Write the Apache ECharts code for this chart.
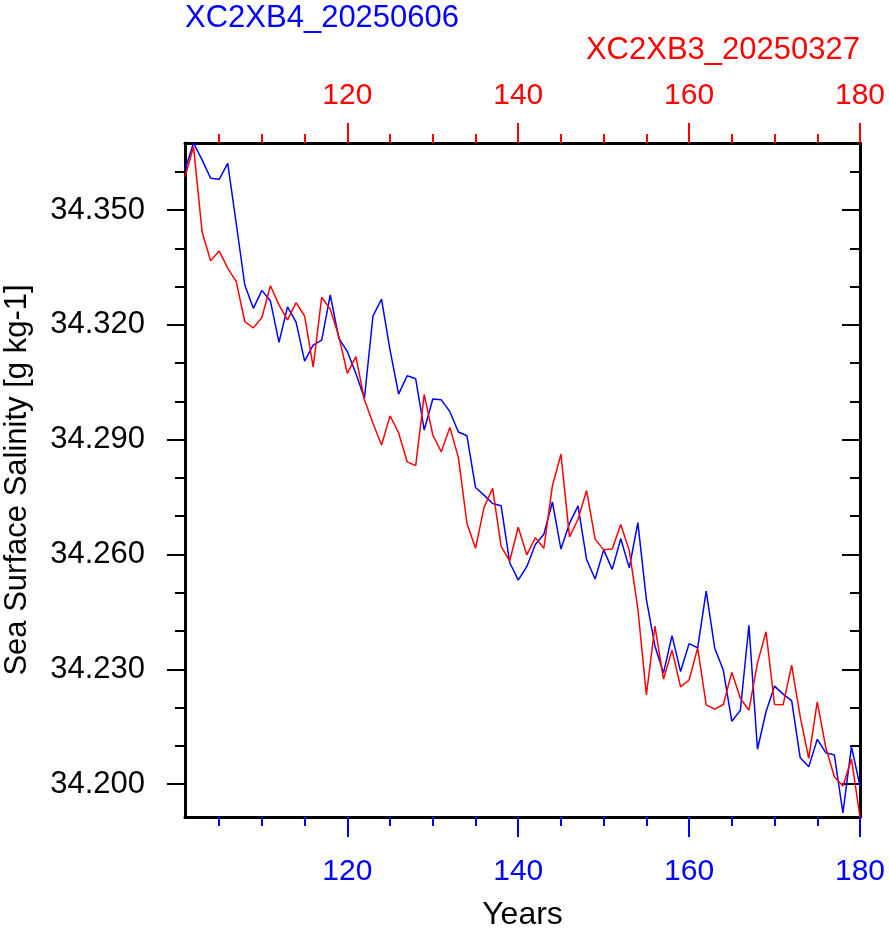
<!DOCTYPE html>
<html>
<head>
<meta charset="utf-8">
<script src="https://cdn.jsdelivr.net/npm/echarts@6/dist/echarts.min.js"></script>
<style>
html,body{margin:0;padding:0;background:#fff;}
#chart{width:889px;height:931px;}
</style>
</head>
<body>
<div id="chart"></div>
<script>
// ---- data ----
const years = [101,102,103,104,105,106,107,108,109,110,
  111,112,113,114,115,116,117,118,119,120,
  121,122,123,124,125,126,127,128,129,130,
  131,132,133,134,135,136,137,138,139,140,
  141,142,143,144,145,146,147,148,149,150,
  151,152,153,154,155,156,157,158,159,160,
  161,162,163,164,165,166,167,168,169,170,
  171,172,173,174,175,176,177,178,179,180];

const seriesNames = ['XC2XB4_20250606', 'XC2XB3_20250327'];

const sssB4 = [34.3605,34.3675,34.3631,34.3583,34.3580,34.3622,34.3464,34.3304,34.3243,34.3290,
  34.3262,34.3154,34.3247,34.3207,34.3105,34.3147,34.3160,34.3278,34.3165,34.3130,
  34.3073,34.3008,34.3223,34.3267,34.3134,34.3019,34.3067,34.3059,34.2925,34.3006,
  34.3004,34.2973,34.2920,34.2910,34.2775,34.2755,34.2733,34.2727,34.2579,34.2533,
  34.2568,34.2626,34.2653,34.2737,34.2614,34.2681,34.2727,34.2587,34.2536,34.2612,
  34.2561,34.2641,34.2565,34.2683,34.2482,34.2361,34.2290,34.2388,34.2294,34.2367,
  34.2356,34.2504,34.2355,34.2298,34.2164,34.2193,34.2415,34.2091,34.2189,34.2256,
  34.2235,34.2218,34.2069,34.2045,34.2117,34.2082,34.2076,34.1925,34.2098,34.1995];

const sssB3 = [34.3587,34.3665,34.3443,34.3367,34.3393,34.3348,34.3313,34.3208,34.3192,34.3219,
  34.3302,34.3252,34.3213,34.3258,34.3223,34.3090,34.3272,34.3241,34.3170,34.3073,
  34.3117,34.3004,34.2943,34.2886,34.2962,34.2918,34.2842,34.2832,34.3018,34.2912,
  34.2868,34.2932,34.2853,34.2681,34.2616,34.2723,34.2773,34.2621,34.2583,34.2671,
  34.2599,34.2644,34.2616,34.2779,34.2862,34.2646,34.2692,34.2767,34.2640,34.2612,
  34.2614,34.2678,34.2610,34.2458,34.2233,34.2413,34.2274,34.2350,34.2254,34.2272,
  34.2356,34.2207,34.2196,34.2208,34.2292,34.2224,34.2193,34.2316,34.2398,34.2208,
  34.2207,34.2311,34.2176,34.2067,34.2215,34.2095,34.2019,34.1995,34.2065,34.1914];

const xMajorTicks = [120,140,160,180];
const xMinorTicks = [105,110,115,125,130,135,145,150,155,165,170,175];
const yMajorTicks = [34.200,34.230,34.260,34.290,34.320,34.350];
const yMinorTicks = [34.210,34.220,34.240,34.250,34.270,34.280,34.300,34.310,34.330,34.340,34.360];

const xRange = [101, 180];
const yRange = [34.1914, 34.3675];

// ---- chart ----
const FONT = "'Liberation Sans', Arial, Helvetica, sans-serif";
const BLUE = '#0000ff', RED = '#ff0000';
const chart = echarts.init(document.getElementById('chart'), null, {renderer:'canvas'});

function xAx(pos, color, ticks, len, labels, margin, extra) {
  return Object.assign({
    type:'value', position:pos, min:xRange[0], max:xRange[1],
    axisLine:{show:labels, onZero:false, lineStyle:{color:'#000', width:3}},
    axisTick:{show:true, inside:false, customValues:ticks, length:len, lineStyle:{color:color, width:2}},
    axisLabel:{show:labels, customValues:ticks, color:color, fontSize:30, fontFamily:FONT, margin:margin},
    splitLine:{show:false}
  }, extra || {});
}
function yAx(pos, ticks, len, inside, labels, line, extra) {
  return Object.assign({
    type:'value', position:pos, min:yRange[0], max:yRange[1],
    axisLine:{show:line, onZero:false, lineStyle:{color:'#000', width:3}},
    axisTick:{show:true, inside:inside, customValues:ticks, length:len, lineStyle:{color:'#000', width:2}},
    axisLabel:{show:labels, customValues:ticks, color:'#000', fontSize:31, fontFamily:FONT, margin:40,
      formatter:function(v){return v.toFixed(3);}},
    splitLine:{show:false}
  }, extra || {});
}

const option = {
  backgroundColor:'#fff',
  animation:false,
  title:[
    {text:seriesNames[0], left:185, top:3, padding:0, textStyle:{color:BLUE, fontSize:31, fontWeight:'normal', fontFamily:FONT}},
    {text:seriesNames[1], right:29, top:35, padding:0, textStyle:{color:RED, fontSize:31, fontWeight:'normal', fontFamily:FONT}}
  ],
  grid:{left:185, right:29, top:143, bottom:114, containLabel:false, outerBoundsMode:'none'},
  xAxis:[
    xAx('bottom', BLUE, xMajorTicks, 20, true, 40, {name:'Years', nameLocation:'middle', nameGap:82,
      nameTextStyle:{color:'#000', fontSize:32, fontFamily:FONT}}),
    xAx('bottom', BLUE, xMinorTicks, 9, false, 10),
    xAx('top', RED, xMajorTicks, 20, true, 32),
    xAx('top', RED, xMinorTicks, 9, false, 10)
  ],
  yAxis:[
    yAx('left', yMajorTicks, 18, false, true, true, {name:'Sea Surface Salinity [g kg-1]', nameLocation:'middle',
      nameGap:152, nameRotate:90, nameTextStyle:{color:'#000', fontSize:31, fontFamily:FONT}}),
    yAx('left', yMinorTicks, 10, false, false, false),
    yAx('right', yMajorTicks, 18, true, false, true),
    yAx('right', yMinorTicks, 10, true, false, false)
  ],
  series:[
    {name:seriesNames[0], type:'line', xAxisIndex:0, yAxisIndex:0, showSymbol:false, symbol:'none',
     lineStyle:{color:BLUE, width:1.5}, data:years.map((y,i)=>[y, sssB4[i]]), z:3},
    {name:seriesNames[1], type:'line', xAxisIndex:0, yAxisIndex:0, showSymbol:false, symbol:'none',
     lineStyle:{color:RED, width:1.5}, data:years.map((y,i)=>[y, sssB3[i]]), z:4}
  ]
};
chart.setOption(option);
</script>
</body>
</html>
